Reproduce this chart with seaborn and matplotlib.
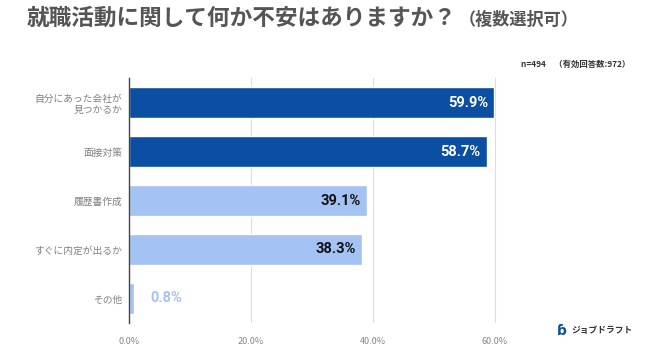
import matplotlib
matplotlib.use("Agg")
import matplotlib.pyplot as plt
import seaborn as sns
import pandas as pd

categories = ["自分にあった会社が\n見つかるか", "面接対策", "履歴書作成", "すぐに内定が出るか", "その他"]
values = [59.9, 58.7, 39.1, 38.3, 0.8]
group = ["top", "top", "mid", "mid", "low"]
xticks = [0, 20, 40, 60]
xtick_labels = ["0.0%", "20.0%", "40.0%", "60.0%"]

sns.set_theme(style="white")
plt.rcParams['font.family'] = ['Noto Sans CJK JP', 'DejaVu Sans']

dark = "#0b4ea2"
light = "#a4c2f4"
palette = {"top": dark, "mid": light, "low": light}

df = pd.DataFrame({"cat": categories, "val": values, "grp": group})

fig = plt.figure(figsize=(6.5, 3.6), dpi=100)
ax = fig.add_axes([0.1985, 0.103, 0.60, 0.68])
sns.barplot(data=df, x="val", y="cat", hue="grp", palette=palette, dodge=False,
            legend=False, width=0.62, ax=ax, saturation=1)

ax.set_xlim(0, 64)
ax.set_xticks(xticks)
ax.set_xticklabels(xtick_labels, fontsize=6.5, color="#888888")
ax.tick_params(axis="x", length=0, pad=10)
ax.tick_params(axis="y", length=0, pad=5)
for lbl in ax.get_yticklabels():
    lbl.set_fontsize(7)
    lbl.set_color("#808080")
    lbl.set_horizontalalignment("right")
ax.set_xlabel("")
ax.set_ylabel("")
for x in xticks[1:]:
    ax.axvline(x, color="#dddddd", lw=0.8, zorder=0)
for s in ["top", "right", "bottom"]:
    ax.spines[s].set_visible(False)
ax.spines["left"].set_color("#444444")
ax.spines["left"].set_linewidth(1.0)

for i, v in enumerate(values):
    txt = f"{v:.1f}%"
    if v > 10:
        col = "white" if group[i] == "top" else "#111111"
        ax.text(v - 1.0, i, txt, ha="right", va="center", fontsize=10.5,
                fontweight="bold", color=col, family="Roboto")
    else:
        ax.text(v + 2.7, i, txt, ha="left", va="center", fontsize=10.5,
                fontweight="bold", color=light, family="Roboto")

fig.text(0.041, 0.948, "就職活動に関して何か不安はありますか？", fontsize=16.3,
         fontweight="bold", color="#555555", va="center", ha="left")
fig.text(0.706, 0.944, "（複数選択可）", fontsize=12.3, fontweight="bold",
         color="#555555", va="center", ha="left")
fig.text(0.97, 0.82, "n=494　（有効回答数:972）", fontsize=6, fontweight="bold",
         color="#333333", va="center", ha="right")
fig.text(0.879, 0.083, "ジョブドラフト", fontsize=6.3, fontweight="bold",
         color="#333333", va="center", ha="left")
fig.text(0.857, 0.080, "ɓ", fontsize=10, fontweight="bold",
         color=dark, va="center", ha="left", family="DejaVu Sans")

fig.savefig("out.png", dpi=100, facecolor="white")
